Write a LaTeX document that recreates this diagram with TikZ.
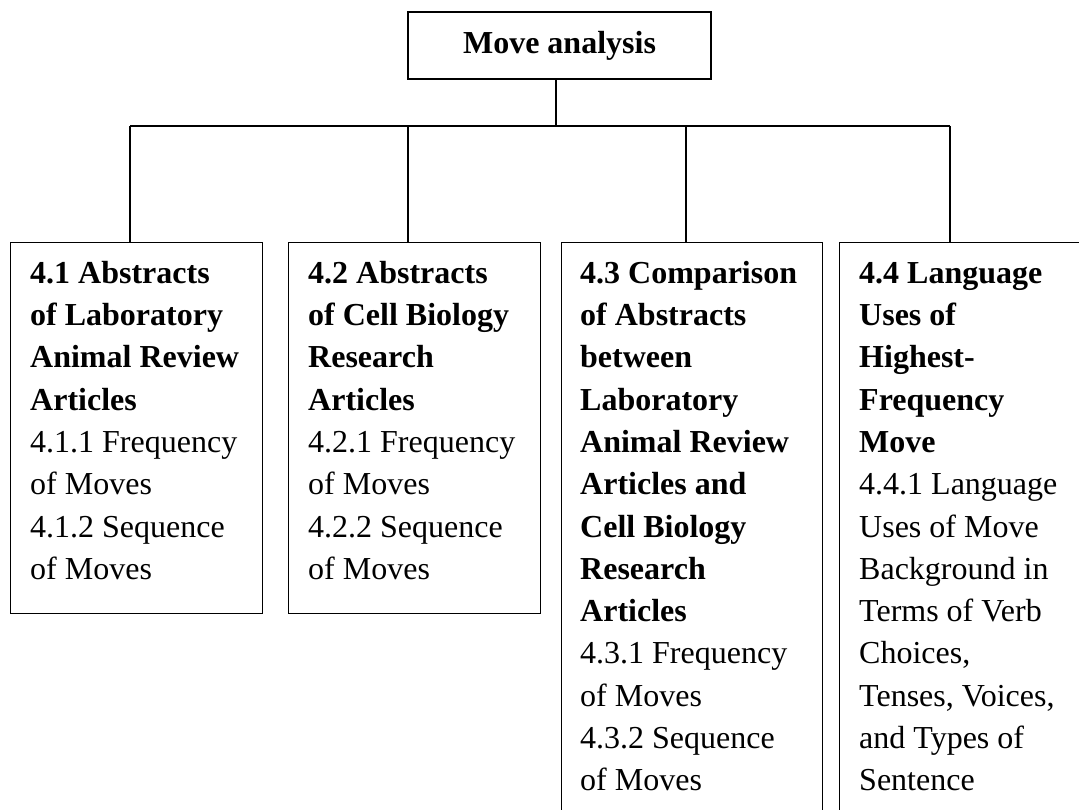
\documentclass[tikz,border=0pt]{standalone}
\usepackage{fontspec}
\setmainfont{Liberation Serif}
\begin{document}
\begin{tikzpicture}[x=1pt,y=-1pt,
  boxshape/.style={draw, rectangle, inner sep=0pt, anchor=north west, line width=1.3pt},
  boxtext/.style={anchor=north west, inner sep=0pt, align=left, font=\fontsize{32}{42.3}\selectfont},
  link/.style={draw, line width=1.3pt}]
\useasboundingbox (0,0) rectangle (1079,810);
% top node
\node[draw, rectangle, line width=1.3pt, minimum width=303pt, minimum height=67pt, inner sep=0pt,
      font=\fontsize{32}{42.3}\selectfont\bfseries] (top) at (559.5,45.5) {Move analysis};
% boxes
\node[boxshape, minimum width=252pt, minimum height=371pt] (b1) at (10,242) {};
\node[boxshape, minimum width=252pt, minimum height=371pt] (b2) at (288,242) {};
\node[boxshape, minimum width=261pt, minimum height=620pt] (b3) at (561,242) {};
\node[boxshape, minimum width=262pt, minimum height=620pt] (b4) at (839,242) {};
% texts
\node[boxtext] (t1) at (30,253.4) {\strut\textbf{4.1 Abstracts}\\\textbf{of Laboratory}\\\textbf{Animal Review}\\\textbf{Articles}\\4.1.1 Frequency\\of Moves\\4.1.2 Sequence\\of Moves};
\node[boxtext] (t2) at (308,253.4) {\strut\textbf{4.2 Abstracts}\\\textbf{of Cell Biology}\\\textbf{Research}\\\textbf{Articles}\\4.2.1 Frequency\\of Moves\\4.2.2 Sequence\\of Moves};
\node[boxtext] (t3) at (580,253.4) {\strut\textbf{4.3 Comparison}\\\textbf{of Abstracts}\\\textbf{between}\\\textbf{Laboratory}\\\textbf{Animal Review}\\\textbf{Articles and}\\\textbf{Cell Biology}\\\textbf{Research}\\\textbf{Articles}\\4.3.1 Frequency\\of Moves\\4.3.2 Sequence\\of Moves};
\node[boxtext] (t4) at (859,253.4) {\strut\textbf{4.4 Language}\\\textbf{Uses of}\\\textbf{Highest-}\\\textbf{Frequency}\\\textbf{Move}\\4.4.1 Language\\Uses of Move\\Background in\\Terms of Verb\\Choices,\\Tenses, Voices,\\and Types of\\Sentence};
% connectors
\coordinate (j) at (556,126);
\coordinate (hl) at (130,126);
\coordinate (hr) at (950,126);
\draw[link] (top.south -| j) -- (j);
\draw[link] (hl) -- (hr);
\draw[link] (hl) -- (hl |- b1.north);
\draw[link] (408,126) -- (408,242);
\draw[link] (686,126) -- (686,242);
\draw[link] (hr) -- (hr |- b4.north);
\end{tikzpicture}
\end{document}
